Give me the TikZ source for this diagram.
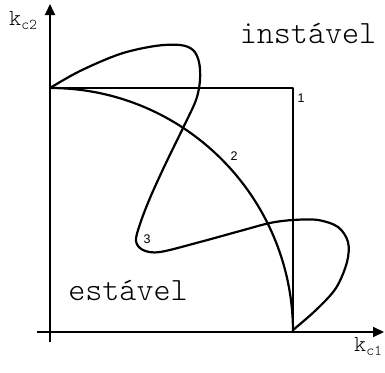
\documentclass[tikz,border=0pt]{standalone}
\usepackage{fontspec}
\setmainfont{Liberation Sans}
\newfontfamily\lightmono{Latin Modern Mono Light}
\usetikzlibrary{arrows.meta}
\tikzset{
  axisline/.style={line width=2pt,-{Triangle[length=11pt,width=10pt]}},
  thick curve/.style={line width=2.2pt,line join=round,line cap=round},
  bigtext/.style={font=\lightmono\fontsize{32.5}{34}\selectfont,inner sep=0pt},
  axlabel/.style={font=\lightmono\fontsize{23}{24}\selectfont,inner sep=0pt},
  numlabel/.style={font=\fontsize{12.5}{13}\selectfont,inner sep=0pt}
}
\begin{document}
\begin{tikzpicture}[x=1pt,y=-1pt]
\path[use as bounding box] (0,0) rectangle (385,372);
% axes
\coordinate (o) at (50,332);
\coordinate (ybot) at (50,342);
\coordinate (ytop) at (50,4);
\coordinate (xleft) at (37,332);
\coordinate (xright) at (384,332);
\draw[axisline] (ybot) -- (ytop);
\draw[axisline] (xleft) -- (xright);
% square 1
\coordinate (a) at (50,88);
\coordinate (b) at (293,88);
\coordinate (c) at (293,332);
\draw[thick curve] (a) -- (b) -- (c);
% arc 2 (quarter circle)
\draw[thick curve] (a) arc[start angle=90,end angle=0,x radius=243,y radius=-244];
% curve 3
\draw[thick curve] plot[smooth,tension=0.55] coordinates {
 (50,88) (80,71) (120,54) (155,46) (180,45) (193,50) (199,62) (200,80)
 (196,100) (183,128) (165,165) (150,198) (140,224) (136,241) (143,250)
 (160,252) (200,242) (240,231) (270,223) (293,220) (318,220) (338,227)
 (348,242) (347,262) (336,288) (316,310) (293,330)};
% labels
\node[numlabel] (n1) at (301,98) {1};
\node[numlabel] (n2) at (234,156) {2};
\node[numlabel] (n3) at (147,239) {3};
\node[bigtext,anchor=base] (inst) at (308,43) {instável};
\node[bigtext,anchor=base] (est) at (128,300) {estável};
\node[axlabel,anchor=base west] (ky) at (9,25) {k\raisebox{-0.45ex}{\fontsize{15}{15}\selectfont c2}};
\node[axlabel,anchor=base west] (kx) at (354,351) {k\raisebox{-0.45ex}{\fontsize{15}{15}\selectfont c1}};
\end{tikzpicture}
\end{document}
